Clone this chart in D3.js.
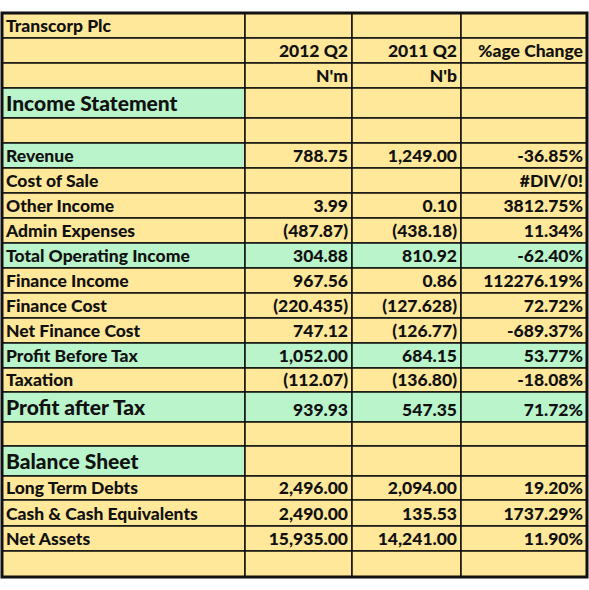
<!DOCTYPE html>
<html><head><meta charset="utf-8">
<script src="https://cdn.jsdelivr.net/npm/d3@7"></script>
<style>body{margin:0;background:#fff}</style>
</head><body><svg id="t" width="589" height="590"></svg>
<script>
// row labels, values, change %, and which rows are highlighted
const labels = ["Transcorp Plc", "", "", "Income Statement", "", "Revenue", "Cost of Sale", "Other Income",
  "Admin Expenses", "Total Operating Income", "Finance Income", "Finance Cost", "Net Finance Cost",
  "Profit Before Tax", "Taxation", "Profit after Tax", "", "Balance Sheet", "Long Term Debts",
  "Cash & Cash Equivalents", "Net Assets", ""];
const col2012 = ["", "2012 Q2", "N'm", "", "", "788.75", "", "3.99", "(487.87)", "304.88", "967.56",
  "(220.435)", "747.12", "1,052.00", "(112.07)", "939.93", "", "", "2,496.00", "2,490.00", "15,935.00", ""];
const col2011 = ["", "2011 Q2", "N'b", "", "", "1,249.00", "", "0.10", "(438.18)", "810.92", "0.86",
  "(127.628)", "(126.77)", "684.15", "(136.80)", "547.35", "", "", "2,094.00", "135.53", "14,241.00", ""];
const change = ["", "%age Change", "", "", "", "-36.85%", "#DIV/0!", "3812.75%", "11.34%", "-62.40%",
  "112276.19%", "72.72%", "-689.37%", "53.77%", "-18.08%", "71.72%", "", "", "19.20%", "1737.29%", "11.90%", ""];
const greenFirst = [3, 5, 17];
const greenRow = [9, 13, 15];
const bigRows = [3, 15, 17];
const rowEdges = [13, 38, 63, 88, 118, 143, 168, 193, 218, 243, 268, 293, 318, 343, 368, 392, 422, 446, 476, 500, 526, 551, 577];
const colEdges = [2, 245, 352, 461, 587];

const svg = d3.select("#t");
const yellow = "#FFE89A", green = "#B9F4CB";
const cols = [labels, col2012, col2011, change];

cols.forEach((col, c) => {
  col.forEach((txt, r) => {
    const x0 = colEdges[c], x1 = colEdges[c + 1], y0 = rowEdges[r], y1 = rowEdges[r + 1];
    const isGreen = greenRow.includes(r) || (c === 0 && greenFirst.includes(r));
    svg.append("rect").attr("x", x0).attr("y", y0).attr("width", x1 - x0).attr("height", y1 - y0)
      .attr("fill", isGreen ? green : yellow).attr("stroke", "#111").attr("stroke-width", 1.5);
    if (txt) {
      const big = bigRows.includes(r) && c === 0;
      svg.append("text")
        .attr("x", c === 0 ? x0 + 4 : x1 - 4)
        .attr("y", y1 - (big ? 7 : 6))
        .attr("text-anchor", c === 0 ? "start" : "end")
        .attr("font-family", "Lato, 'Open Sans', sans-serif")
        .attr("font-weight", 900)
        .attr("font-size", big ? 21 : 17.5)
        .attr("fill", "#111")
        .text(txt);
    }
  });
});
svg.append("rect").attr("x", colEdges[0]).attr("y", rowEdges[0])
  .attr("width", colEdges[4] - colEdges[0]).attr("height", rowEdges[22] - rowEdges[0])
  .attr("fill", "none").attr("stroke", "#111").attr("stroke-width", 3);
</script></body></html>
